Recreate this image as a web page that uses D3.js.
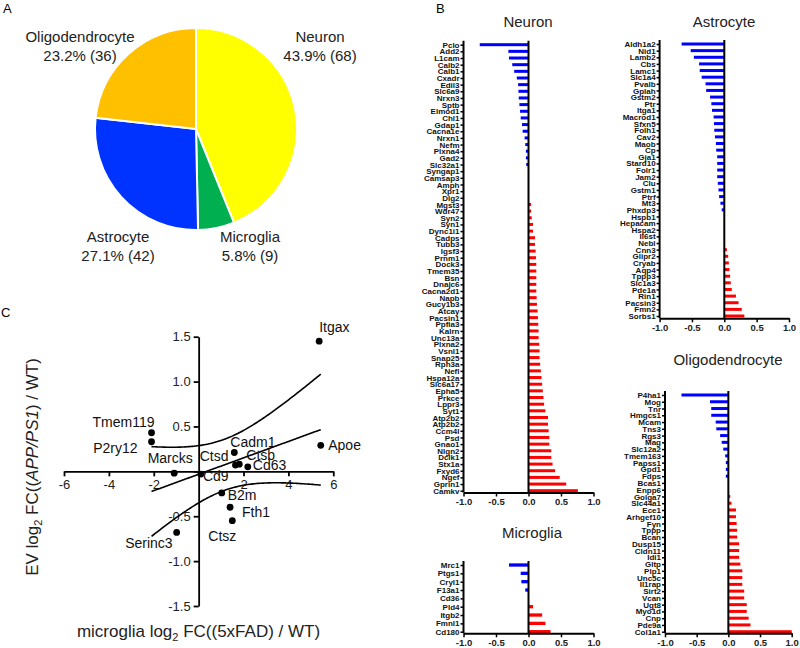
<!DOCTYPE html>
<html><head><meta charset="utf-8">
<script src="https://cdn.jsdelivr.net/npm/d3@7/dist/d3.min.js"></script>
<style>
body{margin:0;background:#fff;}
svg{display:block;font-family:"Liberation Sans",Arial,sans-serif;}
</style></head>
<body><svg id="chart" width="800" height="648"></svg>
<script>
// ---------- Panel A: pie ----------
const pieCategories = ["Neuron","Microglia","Astrocyte","Oligodendrocyte"];
const pieCounts = [68, 9, 42, 36];
const piePercents = ["43.9%","5.8%","27.1%","23.2%"];
const pieColors = ["#FFFF00","#00B050","#0033FF","#FFC000"];

// ---------- Panel B: bar data ----------
const neuronGenes = ["Pclo","Add2","L1cam","Calb2","Calb1","Cxadr","Edil3","Slc6a9","Nrxn3","Sptb","Elmod1","Chl1","Gdap1","Cacna1e","Nrxn1","Nefm","Plxna4","Gad2","Slc32a1","Syngap1","Camsap3","Amph","Xpr1","Dlg2","Mgst3","Wdr47","Syn2","Syn1","Dync1i1","Cadps","Tubb3","Igsf3","Prnm1","Dock3","Tmem35","Bsn","Dnajc6","Cacna2d1","Napb","Gucy1b3","Atcay","Pacsin1","Ppfia3","Kalrn","Unc13a","Plxna2","Vsnl1","Snap25","Rph3a","Nefl","Hspa12a","Slc6a17","Epha5","Prkce","Lppr3","Syt1","Atp2b2","Atp2b2 ","Ccm4l","Psd","Gnao1","Nlgn2","Dclk1","Stx1a","Fxyd6","Ngef","Gprin1","Camkv"];
const neuronFC = [-0.75,-0.31,-0.30,-0.25,-0.22,-0.18,-0.16,-0.155,-0.15,-0.14,-0.13,-0.12,-0.10,-0.09,-0.06,-0.05,-0.04,-0.04,-0.035,0,0,0,0,0,0.04,0.04,0.05,0.07,0.07,0.10,0.10,0.11,0.115,0.12,0.12,0.12,0.12,0.12,0.125,0.13,0.14,0.145,0.15,0.155,0.155,0.165,0.17,0.17,0.18,0.19,0.20,0.21,0.22,0.23,0.24,0.26,0.30,0.30,0.31,0.32,0.32,0.35,0.35,0.37,0.41,0.48,0.58,0.76];

const astroGenes = ["Aldh1a2","Nid1","Lamb2","Cbs","Lamc1","Slc1a4","Pvalb","Gplah","Gstm2","Ptr","Itga1","Macrod1","Sfxn5","Folh1","Cav2","Maob","Cp","Gja1","Stard10","Folr1","Jam2","Clu","Gstm1","Ptrf","Mt3","Phxdp3","Hspb1","Hepacam","Hspa2","Il6st","Nebl","Cnn3","Glipr2","Cryab","Aqp4","Tppp3","Slc1a3","Pde1a","Rin1","Pacsin3","Fmn2","Sorbs1"];
const astroFC = [-0.66,-0.52,-0.47,-0.39,-0.38,-0.35,-0.29,-0.28,-0.22,-0.20,-0.19,-0.165,-0.16,-0.155,-0.145,-0.13,-0.125,-0.11,-0.11,-0.11,-0.11,-0.10,-0.09,-0.08,-0.06,-0.04,0,0,0,0,0,0.04,0.06,0.07,0.08,0.09,0.10,0.115,0.18,0.22,0.27,0.31];

const oligoGenes = ["P4ha1","Mog","Tnr","Hmgcs1","Mcam","Tns3","Rgs3","Mag","Slc12a2","Tmem163","Papss1","Gpd1","Fdps","Bcas1","Enpp6","Golga7","Slc44a1","Ece1","Arhgef10","Fyn","Tppp","Bcan","Dusp15","Cldn11","Idi1","Gltp","Plp1","Unc5c","Il1rap","Sirt2","Vcan","Ugt8","Myo1d","Cnp","Pde9a","Col1a1"];
const oligoFC = [-0.74,-0.29,-0.27,-0.27,-0.20,-0.19,-0.13,-0.105,-0.08,-0.05,-0.04,-0.04,-0.04,0,0,0.03,0.05,0.12,0.12,0.13,0.14,0.14,0.17,0.17,0.17,0.19,0.22,0.22,0.22,0.25,0.25,0.29,0.29,0.32,0.35,1.0];

const microGenes = ["Mrc1","Ptgs1","Cryl1","F13a1","Cd36","Pld4","Itgb2","Fmnl1","Cd180"];
const microFC = [-0.30,-0.12,-0.11,-0.05,0,0.07,0.21,0.26,0.34];

const barTicks = [-1,-0.5,0,0.5,1];

// ---------- Panel C: scatter ----------
const scatterGenes = ["Itgax","Apoe","Tmem119","P2ry12","Marcks","Cadm1","Ctsd","Ctsb","Cd63","Cd9","B2m","Fth1","Ctsz","Serinc3"];
const microgliaLog2FC = [5.37,5.44,-2.10,-2.10,-1.09,1.59,1.64,1.81,2.19,0.10,1.03,1.40,1.50,-0.98];
const evLog2FC = [1.45,0.29,0.43,0.33,-0.02,0.21,0.07,0.08,0.05,-0.03,-0.24,-0.40,-0.55,-0.68];
const scatterXTicks = [-6,-4,-2,0,2,4,6];
const scatterYTicks = [-1.5,-1,-0.5,0,0.5,1,1.5];

// label placement (layout only)
const labelPlace = {
  Itgax:{dx:0,dy:-9,a:"start"}, Apoe:{dx:7.5,dy:5,a:"start"},
  Tmem119:{dx:3,dy:-6,a:"end"}, P2ry12:{dx:-14,dy:11,a:"end"},
  Marcks:{dx:-4,dy:-10,a:"middle"}, Cadm1:{dx:-4,dy:-5,a:"start"},
  Ctsd:{dx:-7,dy:-4,a:"end"}, Ctsb:{dx:7,dy:-4,a:"start"},
  Cd63:{dx:5,dy:3,a:"start"}, Cd9:{dx:2,dy:7,a:"start"},
  B2m:{dx:6,dy:7,a:"start"}, Fth1:{dx:12,dy:10,a:"start"},
  Ctsz:{dx:-24,dy:20,a:"start"}, Serinc3:{dx:-4,dy:16,a:"end"}
};

const svg = d3.select("#chart");

// Panel letters
svg.append("text").attr("x",3).attr("y",13).attr("font-size",13).text("A");
svg.append("text").attr("x",436).attr("y",13).attr("font-size",13).text("B");
svg.append("text").attr("x",1).attr("y",317).attr("font-size",13).text("C");

// ---------- Pie ----------
(function(){
  const cx=196, cy=129, r=101;
  const g = svg.append("g").attr("transform",`translate(${cx},${cy})`);
  const pie = d3.pie().sort(null).value(d=>d)(pieCounts);
  const arc = d3.arc().innerRadius(0).outerRadius(r);
  g.selectAll("path").data(pie).join("path")
    .attr("d",arc).attr("fill",(d,i)=>pieColors[i])
    .attr("stroke","#fff").attr("stroke-width",2);
  const labelPos = [[124,-87],[54,113],[-78,113],[-116,-87]];
  pieCategories.forEach((c,i)=>{
    const t = g.append("text").attr("text-anchor","middle").attr("font-size",15).attr("fill","#222");
    t.append("tspan").attr("x",labelPos[i][0]).attr("y",labelPos[i][1]).text(c);
    t.append("tspan").attr("x",labelPos[i][0]).attr("y",labelPos[i][1]+19).text(`${piePercents[i]} (${pieCounts[i]})`);
  });
})();

// ---------- Bar panels ----------
function barPanel(genes, vals, o){
  const g = svg.append("g");
  const x = d3.scaleLinear().domain([-1,1]).range([o.x0,o.x1]);
  const y = d3.scalePoint().domain(genes).range([o.yTop,o.yBot]);
  const bh = o.bh || 3;
  g.selectAll("rect.bar").data(genes).join("rect")
    .attr("x",(d,i)=>x(Math.min(0,vals[i])))
    .attr("y",d=>y(d)-bh/2)
    .attr("width",(d,i)=>Math.abs(x(vals[i])-x(0)))
    .attr("height",bh)
    .attr("fill",(d,i)=>vals[i]<0?"#0000FF":"#FF0000");
  // zero line
  g.append("line").attr("x1",x(0)).attr("x2",x(0)).attr("y1",o.yTop-4).attr("y2",o.axisY)
    .attr("stroke","#000").attr("stroke-width",2);
  // y axis
  const ya = g.append("g").attr("transform",`translate(${o.x0},0)`)
    .call(d3.axisLeft(y).tickSize(3).tickSizeOuter(0).tickPadding(1));
  ya.select(".domain").remove();
  ya.selectAll("line").attr("stroke","#000").attr("stroke-width",1.5);
  ya.selectAll("text").attr("font-size",8).attr("font-weight","bold").attr("fill","#111")
    .attr("font-family",'"Liberation Sans",Arial,sans-serif');
  g.append("line").attr("x1",o.x0).attr("x2",o.x0).attr("y1",o.yTop-4).attr("y2",o.axisY)
    .attr("stroke","#000").attr("stroke-width",2);
  // x axis
  const xa = g.append("g").attr("transform",`translate(0,${o.axisY})`)
    .call(d3.axisBottom(x).tickValues(barTicks).tickFormat(d=>d.toFixed(1)).tickSize(4).tickSizeOuter(0).tickPadding(2));
  xa.select(".domain").attr("stroke","#000").attr("stroke-width",2);
  xa.selectAll("line").attr("stroke","#000").attr("stroke-width",1.5);
  xa.selectAll("text").attr("font-size",9.5).attr("font-weight","bold").attr("fill","#222")
    .attr("font-family",'"Liberation Sans",Arial,sans-serif');
  // title
  svg.append("text").attr("x",o.tx).attr("y",o.ty).attr("text-anchor","middle")
    .attr("font-size",15).attr("fill","#222").text(o.title);
}
barPanel(neuronGenes, neuronFC, {x0:463.5,x1:593.5,yTop:44.7,yBot:490.7,axisY:492.5,title:"Neuron",tx:528,ty:27});
barPanel(astroGenes, astroFC, {x0:659.6,x1:789,yTop:44,yBot:316,axisY:318.3,title:"Astrocyte",tx:724,ty:27});
barPanel(oligoGenes, oligoFC, {x0:665,x1:791.7,yTop:395,yBot:631.7,axisY:633.3,title:"Oligodendrocyte",tx:728,ty:365});
barPanel(microGenes, microFC, {x0:463.5,x1:593.5,yTop:565,yBot:631.7,axisY:633.3,title:"Microglia",tx:532,ty:538,bh:3.3});

// ---------- Scatter ----------
(function(){
  const x = d3.scaleLinear().domain([-6,6]).range([64,333.3]);
  const y = d3.scaleLinear().domain([-1.5,1.5]).range([606,336.7]);
  const g = svg.append("g");
  const xa = g.append("g").attr("transform",`translate(0,${y(0)})`)
    .call(d3.axisBottom(x).tickValues(scatterXTicks).tickFormat(d=>d===0?"":String(d)).tickSize(5).tickSizeOuter(0).tickPadding(3));
  const ya = g.append("g").attr("transform",`translate(${x(0)},0)`)
    .call(d3.axisLeft(y).tickValues(scatterYTicks).tickFormat(d=>d===0?"":d.toFixed(1)).tickSize(5).tickSizeOuter(0).tickPadding(3));
  [xa,ya].forEach(a=>{
    a.select(".domain").attr("stroke","#000").attr("stroke-width",1.8);
    a.selectAll("line").attr("stroke","#000").attr("stroke-width",1.8);
    a.selectAll("text").attr("font-size",13).attr("fill","#222")
      .attr("font-family",'"Liberation Sans",Arial,sans-serif');
  });
  // regression + 95% CI
  const n = microgliaLog2FC.length;
  const mx = d3.mean(microgliaLog2FC), my = d3.mean(evLog2FC);
  let sxx=0, sxy=0;
  for(let i=0;i<n;i++){ sxx+=(microgliaLog2FC[i]-mx)**2; sxy+=(microgliaLog2FC[i]-mx)*(evLog2FC[i]-my); }
  const b = sxy/sxx, a0 = my - b*mx;
  let sse=0; for(let i=0;i<n;i++){ sse+=(evLog2FC[i]-(a0+b*microgliaLog2FC[i]))**2; }
  const s = Math.sqrt(sse/(n-2)), tcrit = 2.179;
  const [xmin,xmax] = d3.extent(microgliaLog2FC);
  const xs = d3.range(0,101).map(k=>xmin+(xmax-xmin)*k/100);
  const hw = xv=> tcrit*s*Math.sqrt(1/n+(xv-mx)**2/sxx);
  const line = d3.line().x(d=>x(d[0])).y(d=>y(d[1]));
  const curves = [xs.map(v=>[v,a0+b*v]), xs.map(v=>[v,a0+b*v+hw(v)]), xs.map(v=>[v,a0+b*v-hw(v)])];
  g.selectAll("path.fit").data(curves).join("path").attr("class","fit")
    .attr("d",line).attr("fill","none").attr("stroke","#000").attr("stroke-width",1.6);
  // points
  g.selectAll("circle").data(scatterGenes).join("circle")
    .attr("cx",(d,i)=>x(microgliaLog2FC[i])).attr("cy",(d,i)=>y(evLog2FC[i])).attr("r",3.4).attr("fill","#000");
  g.selectAll("text.lbl").data(scatterGenes).join("text").attr("class","lbl")
    .attr("x",(d,i)=>x(microgliaLog2FC[i])+labelPlace[d].dx)
    .attr("y",(d,i)=>y(evLog2FC[i])+labelPlace[d].dy)
    .attr("text-anchor",d=>labelPlace[d].a).attr("font-size",14).attr("fill","#111").text(d=>d);
  // axis titles
  const xt = svg.append("text").attr("x",198.5).attr("y",637).attr("text-anchor","middle").attr("font-size",17).attr("fill","#222");
  xt.append("tspan").text("microglia log");
  xt.append("tspan").attr("font-size",11).attr("dy",4).text("2");
  xt.append("tspan").attr("dy",-4).text(" FC((5xFAD) / WT)");
  const yt = svg.append("text").attr("transform","translate(38,467) rotate(-90)").attr("text-anchor","middle").attr("font-size",17).attr("fill","#222");
  yt.append("tspan").text("EV log");
  yt.append("tspan").attr("font-size",11).attr("dy",4).text("2");
  yt.append("tspan").attr("dy",-4).text(" FC((");
  yt.append("tspan").attr("font-style","italic").text("APP/PS1");
  yt.append("tspan").text(") / WT)");
})();
</script></body></html>
